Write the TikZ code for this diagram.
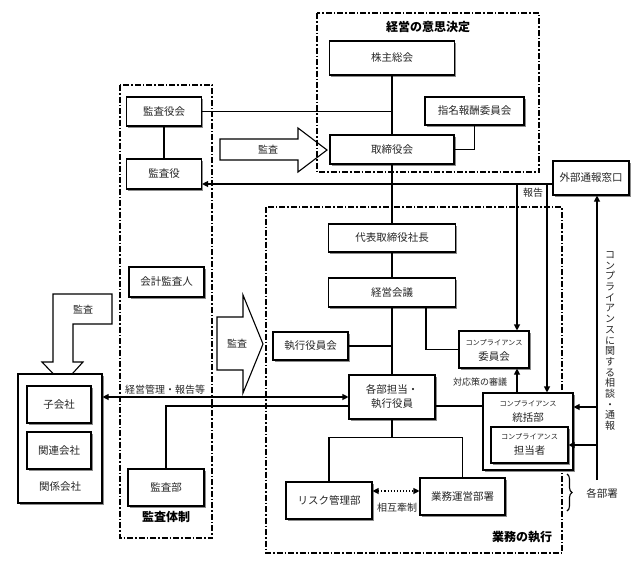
\documentclass[tikz,border=0pt]{standalone}
\usepackage{fontspec}
\setmainfont{Noto Sans CJK JP}
\usetikzlibrary{arrows.meta,shadows,decorations.pathreplacing}
\begin{document}
\begin{tikzpicture}[x=1pt,y=-1pt,
  box/.style={draw,fill=white,line width=1.1pt,inner sep=0pt,
    drop shadow={shadow xshift=1.6pt,shadow yshift=-1.6pt,fill=black!45,opacity=1},
    font=\fontsize{10.5}{14}\selectfont,align=center,text=black!85},
  wh/.style 2 args={minimum width=#1pt,minimum height=#2pt},
  conn/.style={line width=1.7pt},
  thin/.style={line width=1.1pt},
  tip/.style={-{Triangle[length=6pt,width=6pt]}},
  dtip/.style={{Triangle[length=6pt,width=6pt]}-{Triangle[length=6pt,width=6pt]}},
  area/.style={line width=1.2pt,dash pattern=on 6pt off 2pt on 1.5pt off 2pt},
  lbl/.style={font=\fontsize{10}{12}\selectfont,text=black!85,inner sep=0pt},
  small/.style={font=\fontsize{7.2}{8}\selectfont,text=black!85,inner sep=0pt},
  title/.style={font=\fontsize{12}{14}\selectfont\bfseries,inner sep=0pt},
  bigarrow/.style={draw,line width=1.1pt}]
\useasboundingbox (0,0) rectangle (640,584);

% areas
\draw[area] (317,13) rectangle (539,172);
\draw[area] (120,85) rectangle (212,538);
\draw[area] (266,207) rectangle (562,553);
\node[title] (t1) at (428,27) {経営の意思決定};
\node[title] (t2) at (166,517) {監査体制};
\node[title] (t3) at (522,537) {業務の執行};

% big arrows
\draw[bigarrow] (220,139) -- (298,139) -- (298,128) -- (327,150) -- (298,172) -- (298,160) -- (220,160) -- cycle;
\node[lbl] (a1) at (268,150) {監査};
\draw[bigarrow] (217,317) -- (243,317) -- (243,295) -- (263,344) -- (243,393) -- (243,370) -- (217,370) -- cycle;
\node[lbl] (a2) at (237,344) {監査};
\draw[bigarrow] (53,294) -- (112,294) -- (112,324) -- (73,324) -- (73,362) -- (83,362) -- (63,384) -- (42,362) -- (53,362) -- cycle;
\node[lbl] (a3) at (83,310) {監査};

% nodes
\node[box,wh={125}{34}] (kabu) at (392,58) {株主総会};
\node[box,wh={99}{28}] (shimei) at (474.5,111) {指名報酬委員会};
\node[box,wh={124}{29}] (tori) at (392,149.5) {取締役会};
\node[box,wh={75}{29}] (kyakukai) at (164,111.5) {監査役会};
\node[box,wh={75}{30}] (kyaku) at (164,174) {監査役};
\node[box,wh={75}{30}] (kaikei) at (166.5,282) {会計監査人};
\node[box,wh={76}{37}] (kansabu) at (166,487.5) {監査部};
\node[box,wh={76}{34}] (gaibu) at (591,178) {外部通報窓口};
\node[box,wh={127}{28}] (daihyo) at (392,238) {代表取締役社長};
\node[box,wh={127}{29}] (keiei) at (392,292.5) {経営会議};
\node[box,wh={70}{37}] (iinkai) at (494,349.5) {};
\node[small] (iinkaiA) at (494,343) {コンプライアンス};
\node[lbl,font=\fontsize{10.5}{12}\selectfont] (iinkaiB) at (494,357) {委員会};
\node[box,wh={75}{28}] (shikko) at (310.5,346) {執行役員会};
\node[box,wh={86}{44}] (kakubu) at (392,397) {各部担当・\\執行役員};
\node[box,wh={90}{77}] (tokatsu) at (528,431.5) {};
\node[small] (tokatsuA) at (528,404) {コンプライアンス};
\node[lbl,font=\fontsize{10.5}{12}\selectfont] (tokatsuB) at (528,418) {統括部};
\node[box,wh={77}{36}] (tanto) at (529.5,445) {};
\node[small] (tantoA) at (529.5,437) {コンプライアンス};
\node[lbl,font=\fontsize{10.5}{12}\selectfont] (tantoB) at (529.5,451) {担当者};
\node[box,wh={86}{37}] (risk) at (329,500.5) {リスク管理部};
\node[box,wh={85}{37}] (gyomu) at (462.5,496.5) {業務運営部署};
\node[box,wh={84}{129}] (kanren) at (60,438.5) {};
\node[box,wh={64}{37}] (ko) at (59,404.5) {子会社};
\node[box,wh={64}{37}] (kr) at (59,450.5) {関連会社};
\node[lbl,font=\fontsize{10.5}{12}\selectfont] (krl) at (60,487) {関係会社};

% main connectors
\draw[conn] (kabu.south) -- (tori.north);
\draw[conn] (kyakukai.east) -- (kyakukai.east -| kabu.south);
\draw[conn] (shimei.south) |- (tori.east);
\draw[conn] (kyakukai.south) -- (kyaku.north);
\draw[conn] (tori.south) -- (daihyo.north);
\draw[conn] (daihyo.south) -- (keiei.north);
\draw[conn] (keiei.south) -- (kakubu.north);
\draw[conn] (shikko.east) -- (shikko.east -| keiei.south);
\draw[conn] ([xshift=34pt]keiei.south) |- (iinkai.west);
\coordinate (hl) at ([yshift=-6pt]gaibu.west);
\draw[thin,tip] (hl) -- (hl -| kyaku.east);
\coordinate (r1) at ([xshift=23pt]iinkai.north);
\coordinate (r2) at ([xshift=19pt]tokatsu.north);
\draw[thin,tip] (r1 |- hl) -- (r1);
\draw[thin,tip] (r2 |- hl) -- (r2);
\node[lbl] (hokoku) at (533,193) {報告};
\draw[thin,tip] (r1 |- tokatsu.north) -- ([xshift=23pt]iinkai.south);
\node[lbl,font=\fontsize{9}{11}\selectfont] (taio) at (480,382) {対応策の審議};
\coordinate (cb) at (597,480);
\draw[thin,tip] (cb) -- (cb |- gaibu.south);
\draw[thin,tip] (cb |- 0,407) -- ([yshift=24.5pt]tokatsu.east);
\draw[thin,tip] (cb |- tanto.east) -- (tanto.east);
\node[lbl,align=center,font=\fontsize{10}{10.7}\selectfont] (sodan) at (610,341)
  {コ\\ン\\プ\\ラ\\イ\\ア\\ン\\ス\\に\\関\\す\\る\\相\\談\\・\\通\\報};
\draw[conn] (kansabu.north) |- ([yshift=-9pt]kakubu.west);
\draw[conn] ([yshift=-9pt]kakubu.east) -- ([yshift=-9pt]kakubu.east -| tokatsu.west);
\draw[thin,dtip] (kakubu.west -| kanren.east) -- (kakubu.west);
\node[lbl] (keieikanri) at (165,390) {経営管理・報告等};
\coordinate (jb) at ([yshift=-18pt]kakubu.south);
\draw[conn] (kakubu.south) -- (jb);
\draw[conn] (risk.north) |- (jb) -| (gyomu.north);
\draw[thin,dotted,dtip] ([yshift=9.5pt]risk.east) -- ([yshift=9.5pt]risk.east -| gyomu.west);
\node[lbl] (sogo) at (397,508) {相互牽制};
\draw[thin,decorate,decoration={brace,amplitude=5pt}] (567,474) -- (567,511);
\node[lbl,font=\fontsize{10.5}{12}\selectfont] (kakubusho) at (602,493) {各部署};
\end{tikzpicture}
\end{document}
